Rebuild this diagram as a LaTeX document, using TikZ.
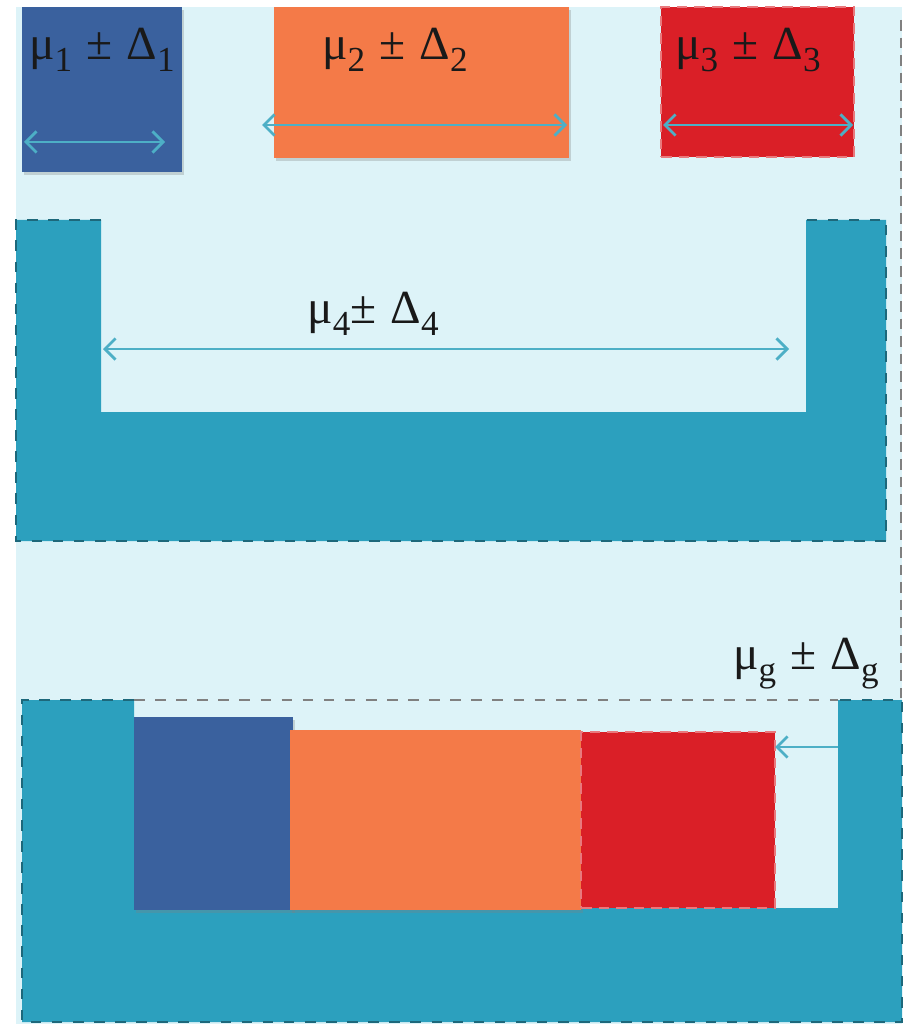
\documentclass[tikz,border=0pt]{standalone}
\usepackage{xcolor}
\usepackage{fontspec}
\usepackage{tikz}
\usetikzlibrary{arrows.meta, shadows}
\newfontfamily\lblfont{Liberation Serif}
\definecolor{bgcyan}{HTML}{DDF3F8}
\definecolor{boxblue}{HTML}{3A619E}
\definecolor{boxorange}{HTML}{F47A48}
\definecolor{boxred}{HTML}{DA1F27}
\definecolor{wallteal}{HTML}{2CA0BE}
\definecolor{arrowcyan}{HTML}{4DAFC6}
\newcommand{\subtol}[1]{\raisebox{-0.55ex}{\fontsize{10}{11}\selectfont #1}}
\newcommand{\pmgap}{\hspace{0.3em}±\hspace{0.3em}}
\tikzset{
  block/.style={
    rectangle, anchor=north west, inner sep=0pt, outer sep=0pt,
  },
  shadowed/.style={drop shadow={shadow xshift=0.5pt, shadow yshift=-0.8pt, opacity=0.3}},
  wall/.style={fill=wallteal},
  wallrim/.style={draw=wallteal!65!black, dashed, line width=0.4pt},
  dimarrow/.style={{Straight Barb[length=3pt,width=6pt]}-{Straight Barb[length=3pt,width=6pt]}, line width=0.8pt, arrowcyan},
  pusharrow/.style={-{Straight Barb[length=3pt,width=6pt]}, line width=0.8pt, arrowcyan},
  lbl/.style={font=\lblfont\fontsize{13.5}{15}\selectfont, text=black!90, inner sep=0pt},
}

\begin{document}
\begin{tikzpicture}[x=0.1mm, y=-0.1mm]
  \useasboundingbox (0,0) rectangle (907,1024);
  \fill[white] (0,0) rectangle (907,1024);
  \fill[bgcyan] (16,7) rectangle (902,1024);
  \draw[gray, densely dashed, line width=0.3pt] (901,20) -- (901,700);

  % Top row — three separate parts
  \node[block, shadowed, fill=boxblue, minimum width=16mm, minimum height=16.5mm] (part1) at (22,7) {};
  \node[block, shadowed, fill=boxorange, minimum width=29.5mm, minimum height=15.1mm] (part2) at (274,7) {};
  \node[block, fill=boxred, draw=boxred!60!white, densely dashed, line width=0.4pt,
        minimum width=19.3mm, minimum height=15mm] (part3) at (661,7) {};

  \node[lbl] (lab1) at (102,50) {μ\subtol{1}\pmgap Δ\subtol{1}};
  \node[lbl] (lab2) at (395,50) {μ\subtol{2}\pmgap Δ\subtol{2}};
  \node[lbl] (lab3) at (748,50) {μ\subtol{3}\pmgap Δ\subtol{3}};

  \coordinate (w1l) at (24,142);  \coordinate (w1r) at (165,142);
  \coordinate (w2l) at (262,125); \coordinate (w2r) at (567,125);
  \coordinate (w3l) at (663,125); \coordinate (w3r) at (853,125);
  \foreach \from/\to in {w1l/w1r, w2l/w2r, w3l/w3r}
    \draw[dimarrow] (\from) -- (\to);

  % Housing
  \fill[wall] (16,220) -- (101,220) -- (101,412) -- (806,412) -- (806,220)
    -- (886,220) -- (886,541) -- (16,541) -- cycle;
  \draw[wallrim] (101,220) -- (16,220) -- (16,541) -- (886,541) -- (886,220) -- (806,220);
  \node[lbl] (lab4) at (373,314) {μ\subtol{4}±\hspace{0.3em}Δ\subtol{4}};
  \coordinate (w4l) at (103,349); \coordinate (w4r) at (789,349);
  \draw[dimarrow] (w4l) -- (w4r);

  % Assembly
  \node[lbl] (labg) at (806,664) {μ\subtol{g}\pmgap Δ\subtol{g}};
  \fill[wall] (22,700) -- (134,700) -- (134,908) -- (838,908) -- (838,700)
    -- (902,700) -- (902,1022) -- (22,1022) -- cycle;
  \draw[wallrim] (134,700) -- (22,700) -- (22,1022) -- (902,1022) -- (902,700) -- (838,700);
  \draw[gray, dashed, line width=0.4pt] (134,700) -- (838,700);

  \node[block, shadowed, fill=boxblue, minimum width=15.9mm, minimum height=19.3mm] (asm1) at (134,717) {};
  \node[block, shadowed, fill=boxorange, minimum width=29.1mm, minimum height=18mm] (asm2) at (290,730) {};
  \node[block, fill=boxred, draw=boxred!60!white, densely dashed, line width=0.4pt,
        minimum width=19.4mm, minimum height=17.6mm] (asm3) at (581,732) {};

  \coordinate (gap) at (838,747);
  \draw[pusharrow] (gap) -- (asm3.east |- gap);

\end{tikzpicture}
\end{document}
